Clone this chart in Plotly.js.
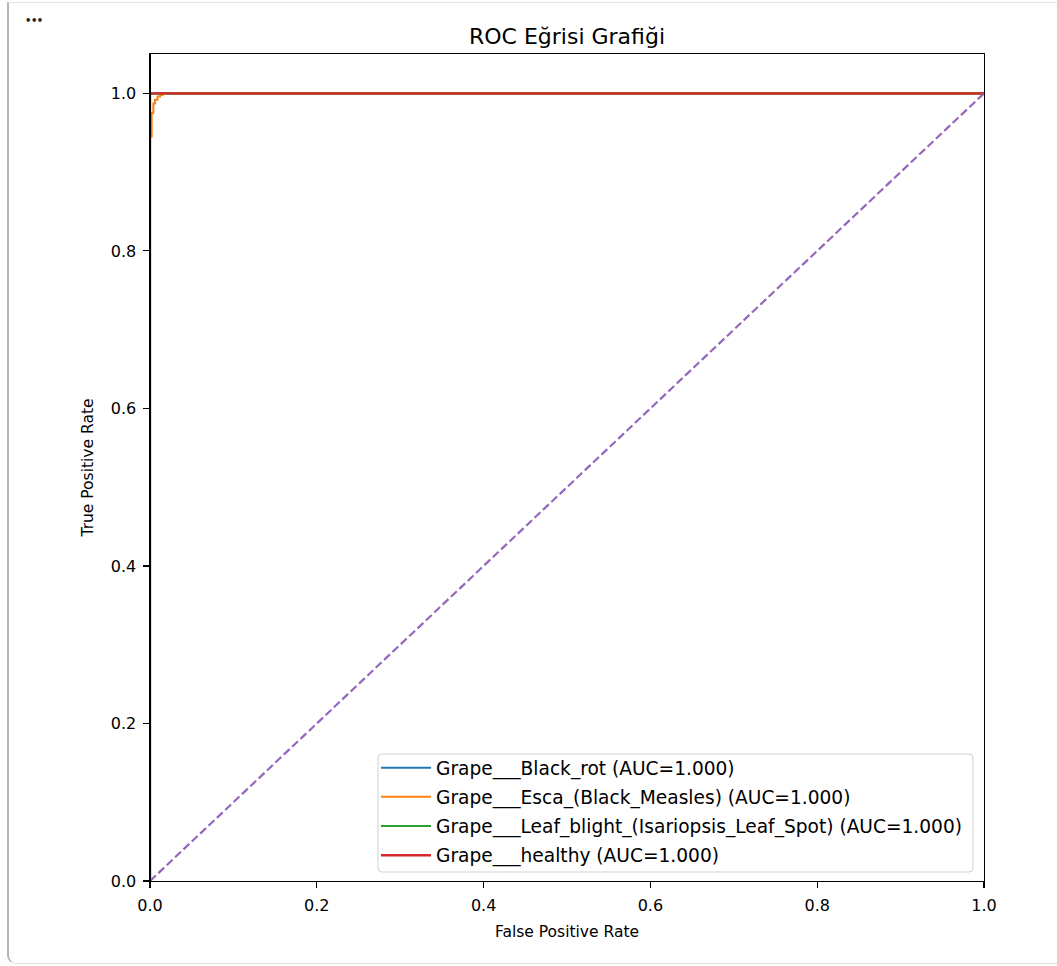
<!DOCTYPE html>
<html>
<head>
<meta charset="utf-8">
<script src="https://cdn.plot.ly/plotly-3.0.1.min.js"></script>
<style>
  html, body { margin: 0; padding: 0; background: #ffffff; width: 1057px; height: 966px; overflow: hidden; }
  #frame { position: absolute; left: 7px; top: 2px; width: 1070px; height: 962px;
           border-top: 1px solid #e3e3e3; border-bottom: 1px solid #e3e3e3; border-left: 2px solid #b5b5b5;
           border-bottom-left-radius: 9px; box-sizing: border-box; }
  #dots { position: absolute; left: 25px; top: 15px; font-family: "DejaVu Sans", sans-serif;
          font-size: 10px; letter-spacing: -0.5px; color: #222; font-weight: bold; }
  #chart { position: absolute; left: 0; top: 0; width: 1057px; height: 966px; }
</style>
</head>
<body>
<div id="frame"></div>
<div id="dots">•••</div>
<div id="chart"></div>
<script>
// ---- Data ----
const classNames = [
  "Grape___Black_rot",
  "Grape___Esca_(Black_Measles)",
  "Grape___Leaf_blight_(Isariopsis_Leaf_Spot)",
  "Grape___healthy"
];
const aucValues = [1.000, 1.000, 1.000, 1.000];

const fprBlackRot = [0, 0, 1];
const tprBlackRot = [0, 1, 1];

const fprEsca = [0, 0, 0.002, 0.002, 0.004, 0.004, 0.006, 0.006, 0.009, 0.009, 0.012, 0.012, 0.015, 0.015, 1];
const tprEsca = [0, 0.945, 0.945, 0.975, 0.975, 0.987, 0.987, 0.992, 0.992, 0.996, 0.996, 0.998, 0.998, 1, 1];

const fprLeafBlight = [0, 0, 1];
const tprLeafBlight = [0, 1, 1];

const fprHealthy = [0, 0, 1];
const tprHealthy = [0, 1, 1];

const chanceX = [0, 1];
const chanceY = [0, 1];

const tickVals = [0, 0.2, 0.4, 0.6, 0.8, 1.0];
const tickText = ["0.0", "0.2", "0.4", "0.6", "0.8", "1.0"];

const chartTitle = "ROC Eğrisi Grafiği";
const xTitle = "False Positive Rate";
const yTitle = "True Positive Rate";

// ---- Styles ----
const colors = ["#1f77b4", "#ff7f0e", "#2ca02c", "#d62728"];
const widths = [2.0, 2.0, 2.0, 2.4];
const fprs = [fprBlackRot, fprEsca, fprLeafBlight, fprHealthy];
const tprs = [tprBlackRot, tprEsca, tprLeafBlight, tprHealthy];

const traces = classNames.map((name, i) => ({
  x: fprs[i], y: tprs[i],
  type: "scatter", mode: "lines",
  name: name + " (AUC=" + aucValues[i].toFixed(3) + ")",
  legendgroup: "g" + i,
  line: { color: colors[i], width: widths[i] },
  hoverinfo: "skip"
}));
traces.push({
  x: chanceX, y: chanceY, type: "scatter", mode: "lines",
  showlegend: false, hoverinfo: "skip",
  line: { color: "#9467bd", width: 2.2, dash: "8px,3.5px" }
});

const FF = "DejaVu Sans, sans-serif";

const axisCommon = {
  showgrid: false, zeroline: false,
  showline: true, mirror: true, linecolor: "#000", linewidth: 1.1,
  ticks: "outside", ticklen: 5.5, tickwidth: 1.1, tickcolor: "#000",
  tickvals: tickVals, ticktext: tickText,
  tickfont: { family: FF, size: 16, color: "#000" },
  ticklabelstandoff: 4,
  layer: "above traces",
  fixedrange: true
};

// legend frame (rounded box) in pixels relative to the plot's bottom-left corner
const lx0 = 228, lx1 = 823, ly0 = 9, ly1 = 127, r = 4;
const legendFramePath =
  `M ${lx0 + r},${ly0} L ${lx1 - r},${ly0} Q ${lx1},${ly0} ${lx1},${ly0 + r} ` +
  `L ${lx1},${ly1 - r} Q ${lx1},${ly1} ${lx1 - r},${ly1} ` +
  `L ${lx0 + r},${ly1} Q ${lx0},${ly1} ${lx0},${ly1 - r} ` +
  `L ${lx0},${ly0 + r} Q ${lx0},${ly0} ${lx0 + r},${ly0} Z`;

const layout = {
  width: 1057, height: 966,
  paper_bgcolor: "rgba(0,0,0,0)", plot_bgcolor: "#ffffff",
  margin: { l: 150, r: 73, t: 54, b: 85, pad: 0 },
  font: { family: FF, size: 15.5, color: "#000" },
  title: { text: chartTitle, font: { family: FF, size: 22, color: "#000" },
           x: 0.5, xref: "paper", xanchor: "center", y: 1 - 36 / 966, yref: "container", yanchor: "middle" },
  xaxis: Object.assign({}, axisCommon, {
    range: [0, 1],
    title: { text: xTitle, font: { family: FF, size: 15.5, color: "#000" }, standoff: 12 }
  }),
  yaxis: Object.assign({}, axisCommon, {
    range: [0, 1.05],
    title: { text: yTitle, font: { family: FF, size: 15.5, color: "#000" }, standoff: 13 }
  }),
  shapes: [
    { type: "line", xref: "paper", yref: "paper", x0: 0, x1: 0, y0: 0, y1: 1,
      line: { color: "#000", width: 2.0 }, layer: "above" },
    { type: "path", xref: "paper", yref: "paper", xsizemode: "pixel", ysizemode: "pixel",
      xanchor: 0, yanchor: 0, path: legendFramePath,
      fillcolor: "rgba(255,255,255,0.8)", line: { color: "#d0d0d0", width: 1 }, layer: "above" }
  ],
  legend: {
    x: (376 - 150) / 834, xanchor: "left", y: (881 - 749) / 827.4, yanchor: "top",
    bgcolor: "rgba(0,0,0,0)", borderwidth: 0,
    font: { family: FF, size: 18.6, color: "#000" },
    itemwidth: 50,
    tracegroupgap: 2, traceorder: "grouped"
  },
  showlegend: true
};

Plotly.newPlot("chart", traces, layout, { staticPlot: true, displayModeBar: false });
</script>
</body>
</html>
